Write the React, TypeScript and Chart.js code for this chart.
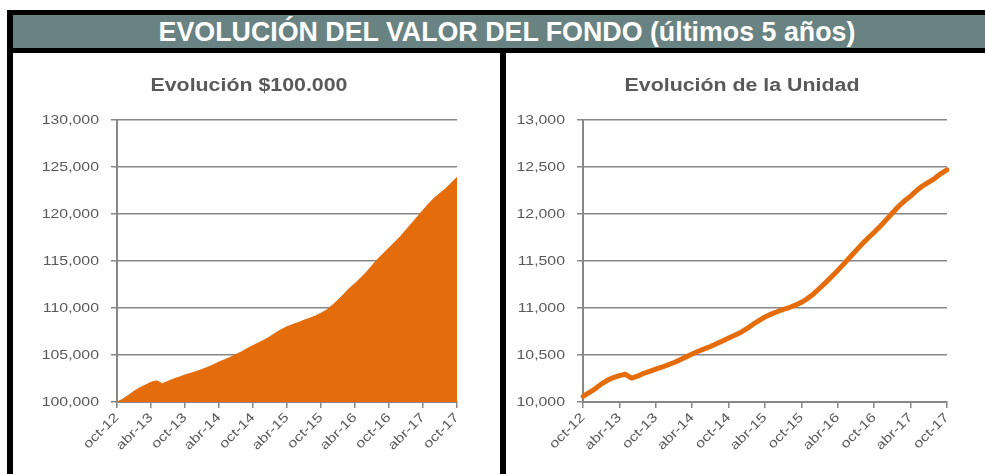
import React, { useEffect, useRef } from 'react';
import { Chart, registerables } from 'chart.js';

Chart.register(...registerables);

const meses = [
  'oct-12','nov-12','dic-12','ene-13','feb-13','mar-13','abr-13','may-13','jun-13','jul-13','ago-13','sep-13',
  'oct-13','nov-13','dic-13','ene-14','feb-14','mar-14','abr-14','may-14','jun-14','jul-14','ago-14','sep-14',
  'oct-14','nov-14','dic-14','ene-15','feb-15','mar-15','abr-15','may-15','jun-15','jul-15','ago-15','sep-15',
  'oct-15','nov-15','dic-15','ene-16','feb-16','mar-16','abr-16','may-16','jun-16','jul-16','ago-16','sep-16',
  'oct-16','nov-16','dic-16','ene-17','feb-17','mar-17','abr-17','may-17','jun-17','jul-17','ago-17','sep-17',
  'oct-17',
];

const valor100k = [
  100000, 100300, 100700, 101150, 101500, 101800, 102100, 102250, 101950, 102200, 102450, 102650,
  102880, 103050, 103250, 103450, 103700, 103950, 104250, 104500, 104750, 105050, 105350, 105700,
  106000, 106300, 106600, 106950, 107350, 107700, 108000, 108250, 108450, 108700, 108900, 109150,
  109450, 109800, 110300, 110850, 111450, 112100, 112600, 113200, 113800, 114500, 115200, 115800,
  116400, 117000, 117600, 118300, 119000, 119700, 120400, 121100, 121700, 122200, 122700, 123300,
  123900,
];

const unidad = [
  10061, 10100, 10140, 10190, 10230, 10260, 10280, 10295, 10255, 10275, 10305, 10325,
  10350, 10370, 10395, 10420, 10450, 10480, 10510, 10540, 10565, 10590, 10620, 10650,
  10680, 10710, 10740, 10780, 10825, 10865, 10905, 10935, 10960, 10985, 11005, 11030,
  11060, 11100, 11150, 11210, 11270, 11335, 11400, 11470, 11540, 11610, 11680, 11745,
  11806, 11870, 11940, 12010, 12080, 12140, 12190, 12250, 12300, 12340, 12380, 12430,
  12470,
];

const titulo = 'EVOLUCIÓN DEL VALOR DEL FONDO (últimos 5 años)';
const tituloIzq = 'Evolución $100.000';
const tituloDer = 'Evolución de la Unidad';

const ORANGE = '#E46C0A';
const GRID = '#878787';
const TEXT = '#595959';
const FONT = "'Liberation Sans', Arial, sans-serif";
const SX = 1.22;

// The reference charts' text is horizontally stretched; widen glyphs around their anchor.
const stretchText = {
  id: 'stretchText',
  beforeDraw(chart: any) {
    const ctx = chart.ctx as any;
    if (ctx.__stretched) return;
    const orig = ctx.fillText.bind(ctx);
    ctx.fillText = (text: string, x: number, y: number) => {
      ctx.save();
      ctx.translate(x, y);
      ctx.scale(SX, 1);
      orig(text, 0, 0);
      ctx.restore();
    };
    ctx.__stretched = true;
  },
};

function makeConfig(
  data: number[],
  area: boolean,
  yMin: number,
  yMax: number,
  yStep: number,
  yWidth: number,
  rightPad: number
): any {
  return {
    type: 'line',
    data: {
      labels: meses,
      datasets: [
        {
          data,
          borderColor: ORANGE,
          backgroundColor: ORANGE,
          borderWidth: area ? 1 : 5,
          fill: area ? 'origin' : false,
          pointRadius: 0,
          tension: 0,
          borderCapStyle: 'round',
          borderJoinStyle: 'round',
        },
      ],
    },
    plugins: [stretchText],
    options: {
      responsive: false,
      animation: false,
      layout: { padding: { left: 0, right: rightPad, top: 67, bottom: 0 } },
      plugins: {
        legend: { display: false },
        tooltip: { enabled: false },
        title: { display: false },
      },
      scales: {
        x: {
          type: 'category',
          offset: false,
          afterFit: (s: any) => {
            s.height = 72;
          },
          grid: {
            display: true,
            drawOnChartArea: false,
            drawTicks: true,
            tickLength: 6,
            color: GRID,
            lineWidth: 1.5,
          },
          border: { display: true, color: GRID, width: 2 },
          ticks: {
            autoSkip: false,
            maxRotation: 45,
            minRotation: 45,
            padding: 2,
            color: TEXT,
            font: { family: FONT, size: 13 },
            callback: function (this: any, val: any, idx: number) {
              return idx % 6 === 0 ? this.getLabelForValue(val) : null;
            },
          },
        },
        y: {
          min: yMin,
          max: yMax,
          afterFit: (s: any) => {
            s.width = yWidth;
          },
          grid: {
            color: GRID,
            lineWidth: 1.5,
            drawTicks: true,
            tickLength: 6,
          },
          border: { display: true, color: GRID, width: 2 },
          ticks: {
            stepSize: yStep,
            padding: 12,
            color: TEXT,
            font: { family: FONT, size: 13 },
            callback: (v: any) => Number(v).toLocaleString('en-US'),
          },
        },
      },
    },
  };
}

function ChartCanvas(props: { cfg: any; left: number; width: number }) {
  const ref = useRef<HTMLCanvasElement | null>(null);
  useEffect(() => {
    if (!ref.current) return;
    const chart = new Chart(ref.current, props.cfg);
    return () => chart.destroy();
  }, []);
  return (
    <canvas
      ref={ref}
      width={props.width}
      height={421}
      style={{ position: 'absolute', left: props.left, top: 53, width: props.width, height: 421 }}
    />
  );
}

function Subtitle(props: { text: string; center: number }) {
  return (
    <div
      style={{
        position: 'absolute',
        left: props.center - 200,
        top: 75,
        width: 400,
        height: 21,
        lineHeight: '21px',
        textAlign: 'center',
        color: TEXT,
        fontFamily: FONT,
        fontWeight: 'bold',
        fontSize: 17.5,
        whiteSpace: 'nowrap',
        transform: `scaleX(${SX})`,
        transformOrigin: 'center',
      }}
    >
      {props.text}
    </div>
  );
}

export default function App() {
  const leftCfg = makeConfig(valor100k, true, 100000, 130000, 5000, 104, 43);
  const rightCfg = makeConfig(unidad, false, 10000, 13000, 500, 77, 38);
  return (
    <div
      style={{
        position: 'fixed',
        left: 0,
        top: 0,
        width: 985,
        height: 474,
        background: '#ffffff',
        overflow: 'hidden',
      }}
    >
      <div style={{ position: 'absolute', left: 7, top: 10, width: 990, height: 5, background: '#000' }} />
      <div style={{ position: 'absolute', left: 7, top: 10, width: 6, height: 470, background: '#000' }} />
      <div
        style={{
          position: 'absolute',
          left: 13,
          top: 15,
          width: 990,
          height: 33,
          background: '#698282',
        }}
      />
      <div
        style={{
          position: 'absolute',
          left: 13,
          top: 15,
          width: 988,
          height: 33,
          lineHeight: '34px',
          textAlign: 'center',
          color: '#ffffff',
          fontFamily: FONT,
          fontWeight: 'bold',
          fontSize: 26.8,
          whiteSpace: 'nowrap',
        }}
      >
        {titulo}
      </div>
      <div style={{ position: 'absolute', left: 7, top: 48, width: 990, height: 5, background: '#000' }} />
      <div style={{ position: 'absolute', left: 500, top: 53, width: 6, height: 430, background: '#000' }} />
      <ChartCanvas cfg={leftCfg} left={13} width={487} />
      <ChartCanvas cfg={rightCfg} left={506} width={479} />
      <Subtitle text={tituloIzq} center={249} />
      <Subtitle text={tituloDer} center={742} />
    </div>
  );
}
